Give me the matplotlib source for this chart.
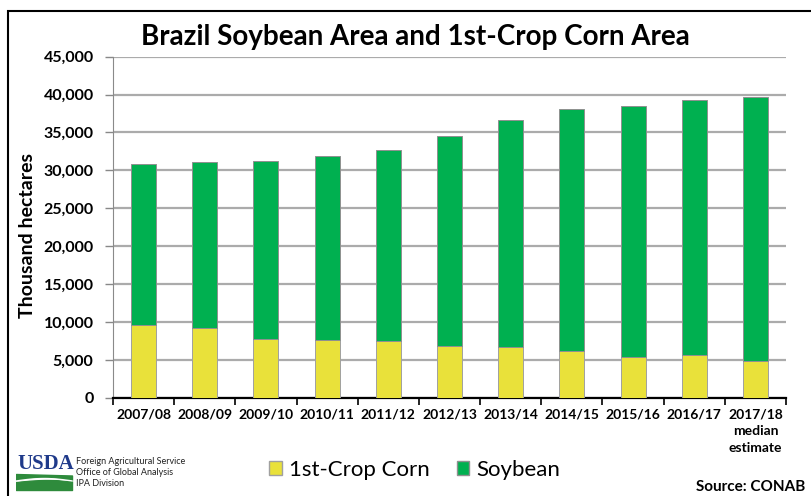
import numpy as np
import matplotlib
matplotlib.use("Agg")
import matplotlib.pyplot as plt
from matplotlib.patches import Patch, Rectangle

plt.rcParams["font.family"] = ["Lato", "DejaVu Sans"]

years = ["2007/08", "2008/09", "2009/10", "2010/11", "2011/12", "2012/13",
         "2013/14", "2014/15", "2015/16", "2016/17", "2017/18\nmedian\nestimate"]
# thousand hectares
corn = [9600, 9250, 7700, 7550, 7500, 6780, 6720, 6180, 5430, 5570, 4900]
soybean = [21300, 21850, 23500, 24300, 25150, 27720, 29950, 31980, 33120, 33730, 34800]

corn_color = "#E9E13A"
soy_color = "#00B050"

W, H = 812, 496
fig = plt.figure(figsize=(W / 100, H / 100), dpi=100)

# outer frame of the pasted chart
fig.patches.append(Rectangle((8 / W, -0.1), 1.2, 1 - 11 / H + 0.1, transform=fig.transFigure,
                             fill=False, edgecolor="black", linewidth=1.5))

ax = fig.add_axes([113 / W, 1 - 397.7 / H, (786 - 113) / W, (397.7 - 56.7) / H])
x = np.arange(len(years))
ax.bar(x, corn, width=0.41, color=corn_color, edgecolor="#a0a0a0", linewidth=0.7,
       zorder=3, label="1st-Crop Corn")
ax.bar(x, soybean, width=0.41, bottom=corn, color=soy_color, edgecolor="#909090",
       linewidth=0.7, zorder=3, label="Soybean")

ax.set_xlim(-0.5, len(years) - 0.5)
ax.set_ylim(0, 45000)
ax.set_yticks(np.arange(0, 45001, 5000))
ax.set_yticklabels([f"{v:,}" for v in range(0, 45001, 5000)], fontsize=11.5, fontweight="bold")
ax.yaxis.grid(True, color="#ababab", linewidth=1.6, zorder=0)
ax.set_axisbelow(True)

ax.set_xticks(x)
ax.set_xticklabels(years, fontsize=10, fontweight="bold", linespacing=1.45)
ax.set_xticks(np.arange(-0.5, len(years)), minor=True)
ax.tick_params(axis="x", which="major", length=0, pad=8)
ax.tick_params(axis="x", which="minor", length=5, width=1.2, color="black", direction="out")
ax.tick_params(axis="y", length=6, width=1, color="#888888", pad=8)

for s in ["top", "right"]:
    ax.spines[s].set_visible(False)
ax.spines["left"].set_color("#8a8a8a")
ax.spines["bottom"].set_color("black")
ax.spines["bottom"].set_linewidth(1.6)

fig.text(415 / W, 1 - 37 / H, "Brazil Soybean Area and 1st-Crop Corn Area",
         ha="center", va="center", fontsize=20, fontweight="bold")
fig.text(28 / W, 1 - 235 / H, "Thousand hectares", rotation=90, ha="center", va="center",
         fontsize=14, fontweight="bold")

handles = [Patch(facecolor=corn_color, edgecolor="#a0a0a0", label="1st-Crop Corn"),
           Patch(facecolor=soy_color, edgecolor="#909090", label="Soybean")]
fig.legend(handles=handles, loc="center", bbox_to_anchor=(415 / W, 1 - 470 / H), ncol=2,
           frameon=False, fontsize=16, handlelength=0.55, handleheight=0.55,
           handletextpad=0.35, columnspacing=1.2)

fig.text(805 / W, 1 - 487 / H, "Source: CONAB", ha="right", va="center",
         fontsize=11, fontweight="bold")

# USDA logo block
lax = fig.add_axes([16 / W, 1 - 494 / H, 58 / W, 42 / H])
lax.set_xlim(0, 58)
lax.set_ylim(0, 42)
lax.axis("off")
lax.text(1, 30, "USDA", fontsize=15, fontweight="bold", family="Liberation Serif",
         color="#1f3a8a", ha="left", va="center")
t = np.linspace(0, 56, 50)
lax.fill_between(t, 14 + 3 * np.sin(t / 18), 20 - 1.5 * t / 56, color="#2e8b3c")
lax.fill_between(t, 4, 12 + 2 * np.sin(t / 20), color="#2e8b3c")
lax.plot(t, 13 + 2.5 * np.sin(t / 18), color="white", linewidth=1)

for i, line in enumerate(["Foreign Agricultural Service", "Office of Global Analysis", "IPA Division"]):
    fig.text(76 / W, 1 - (461 + i * 11.5) / H, line, ha="left", va="center",
             fontsize=6.5, color="#222222")

fig.savefig("out.png", dpi=100)
